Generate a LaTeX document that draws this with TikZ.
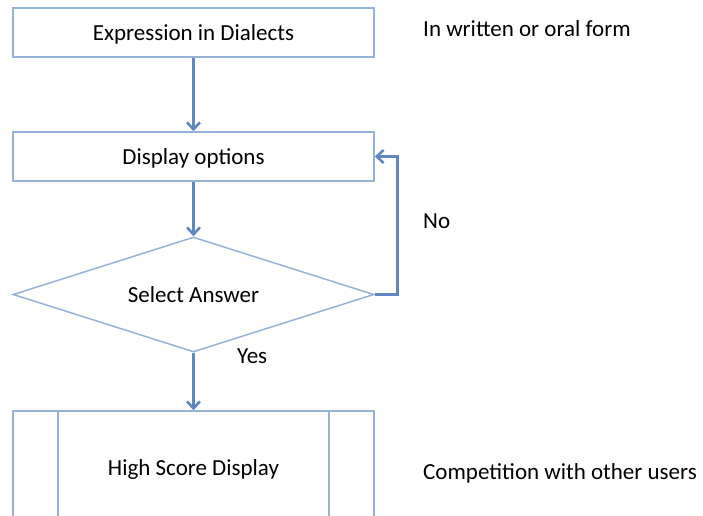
\documentclass[tikz,border=0pt]{standalone}
\usepackage{fontspec}
\setmainfont{Carlito}
\usetikzlibrary{shapes.geometric,arrows.meta}
\definecolor{edgeblue}{HTML}{95B3D7}
\definecolor{arrowblue}{HTML}{5F88C2}
\tikzset{
  every node/.style={font=\fontsize{23}{27}\selectfont, text=black,
    text height=21pt, text depth=4.6pt},
  procbox/.style={draw=edgeblue, line width=1.5pt, fill=white, rectangle,
    minimum width=361pt, minimum height=49pt, inner sep=0pt},
  decision/.style={draw=edgeblue, line width=1.5pt, fill=white, diamond, aspect=3.14,
    minimum width=361pt, minimum height=115pt, inner sep=0pt},
  flow/.style={draw=arrowblue, line width=2.6pt,
    -{Straight Barb[length=7pt,width=13pt,line width=2.6pt]}},
  note/.style={anchor=west, inner sep=0pt}
}
\begin{document}
\begin{tikzpicture}[x=1pt,y=-1pt]
  \useasboundingbox (0,0) rectangle (703,515);
  \clip (0,0) rectangle (703,515);

  % main flow
  \node[procbox] (expr) at (193.5,32.5) {Expression in Dialects};
  \node[procbox] (disp) at (193.5,156.5) {Display options};
  \node[decision] (sel) at (193.5,294.5) {Select Answer};
  \node[procbox, minimum height=112pt] (score) at (193.5,467) {};
  \draw[edgeblue, line width=1.5pt] (58,412) -- (58,530) (329,412) -- (329,530);
  \node at (193.5,467) {High Score Display};

  % connectors
  \draw[flow] (expr.south) -- (disp.north);
  \draw[flow] (disp.south) -- (sel.north);
  \draw[flow] (sel.east) -- ++(23,0) |- (disp.east);
  \draw[flow] (sel.south) -- (score.north);

  % side notes
  \node[note] (n1) at (423,28) {In written or oral form};
  \node[note] (n2) at (423,220) {No};
  \node[note] (n3) at (237,355) {Yes};
  \node[note] (n4) at (423,471) {Competition with other users};
\end{tikzpicture}
\end{document}
